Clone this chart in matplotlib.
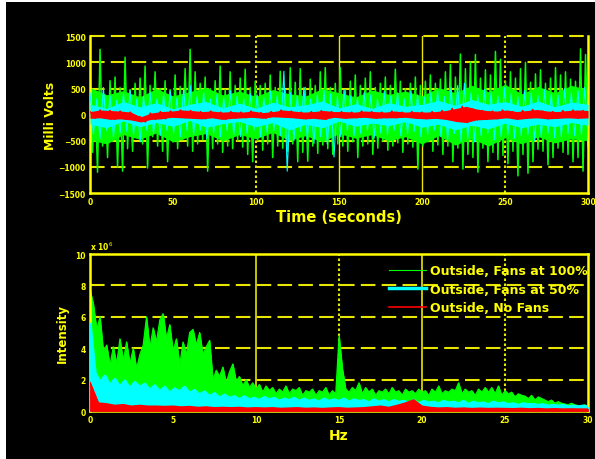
import numpy as np
import matplotlib
matplotlib.use("Agg")
import matplotlib.pyplot as plt
from matplotlib.patches import Rectangle

# --------------------------
# Data
# --------------------------
# time traces (milli volts): alternating high / low excursions, 1.5 s / 2 s / 3 s apart
green_mv = [900, -720, 450, -1100, 1250, -600, 380, -820, 650, -500,
            720, -1000, 520, -1080, 1100, -650, 480, -700, 600, -450,
            700, -560, 930, -1020, 560, -420, 820, -600, 500, -700,
            650, -900, 480, -520, 760, -650, 540, -480, 880, -600,
            1250, -700, 820, -560, 600, -480, 720, -1080, 500, -650,
            650, -560, 930, -720, 480, -600, 820, -650, 560, -500,
            700, -620, 870, -760, 520, -900, 640, -500, 560, -680,
            600, -560, 760, -820, 520, -600, 830, -640, 480, -700,
            900, -560, 620, -900, 880, -720, 520, -890, 680, -600,
            560, -740, 820, -580, 900, -650, 520, -760, 600, -560,
            900, -600, 480, -700, 640, -520, 760, -820, 560, -600,
            700, -560, 820, -760, 520, -640, 600, -500, 720, -680,
            560, -600, 870, -540, 640, -720, 500, -560, 600, -620,
            720, -1040, 560, -600, 640, -520, 760, -700, 600, -580,
            680, -760, 820, -600, 960, -900, 720, -640, 1160, -1040,
            880, -760, 1000, -820, 1150, -1100, 700, -640, 860, -900,
            760, -720, 1210, -860, 1060, -780, 640, -940, 820, -700,
            700, -1170, 880, -760, 1000, -1120, 620, -900, 780, -660,
            860, -700, 600, -960, 700, -820, 900, -640, 760, -720,
            820, -760, 680, -900, 640, -820, 1260, -1080, 1150, -600]
cyan_mv = [420, -380, 300, -450, 520, -300, 360, -420, 280, -350,
           400, -320, 460, -380, 300, -520, 350, -300, 420, -360,
           300, -400, 380, -300, 450, -350, 320, -420, 500, -300,
           560, -380, 340, -300, 420, -460, 300, -350, 380, -420,
           320, -300, 460, -380, 350, -420, 300, -360, 400, -300,
           380, -420, 320, -350, 450, -300, 360, -400, 830, -1080,
           420, -500, 360, -320, 520, -460, 300, -550, 380, -420,
           460, -560, 400, -810, 350, -420, 480, -300, 360, -400,
           320, -360, 420, -300, 380, -450, 300, -350, 440, -380,
           360, -300, 420, -400, 300, -360, 450, -320, 380, -420,
           340, -380, 420, -300, 460, -420, 350, -480, 520, -360,
           560, -500, 600, -460, 420, -520, 380, -400, 480, -360,
           420, -480, 360, -420, 520, -380, 400, -450, 340, -400,
           460, -380, 420, -500, 360, -420, 480, -360, 400, -440,
           380, -420, 500, -360, 420, -400, 460, -380, 520, -420]
red_mv = [60, -70, 90, -60, 80, -90, 70, -80, 50, -100,
          -40, -140, 30, -90, 60, -80, 70, -50, 90, -60,
          80, -70, 60, -80, 70, -60, 50, -90, 60, -70,
          50, -60, 70, -50, 40, -70, 60, -40, 90, -50,
          70, -60, 50, -80, 60, -70, 80, -90, 60, -50,
          60, -70, 50, -60, 70, -50, 60, -70, 50, -60,
          70, -60, 50, -50, 60, -70, 50, -80, 60, -70,
          80, -90, 120, -130, 160, -150, 110, -100, 80, -90,
          70, -80, 90, -60, 60, -90, 80, -70, 100, -60,
          70, -80, 60, -70, 80, -60, 90, -70, 80, -60]

# edges of the solid (dense) part of each trace, every 10 s
green_core_hi = [520, 380, 460, 340, 500, 360, 440, 520, 380, 450, 350, 480,
                 400, 360, 500, 420, 340, 470, 390, 450, 360, 520, 420, 560,
                 440, 580, 400, 540, 420, 560, 480]
green_core_lo = [-480, -560, -380, -470, -350, -520, -420, -360, -500, -380,
                 -460, -340, -490, -400, -520, -360, -450, -380, -500, -420,
                 -560, -400, -580, -460, -600, -440, -560, -420, -540, -460, -500]
cyan_core_hi = [200, 120, 250, 150, 230, 110, 200, 250, 130, 220, 120, 240,
                150, 190, 260, 130, 210, 120, 230, 160, 200, 270, 180, 290,
                200, 250, 160, 260, 150, 240, 200]
cyan_core_lo = [-180, -250, -120, -230, -150, -220, -110, -240, -170, -130,
                -230, -150, -290, -180, -250, -120, -220, -160, -210, -130,
                -240, -180, -290, -200, -270, -160, -250, -180, -230, -150, -200]

# spectra (x 10^6), sampled every 0.2 / 0.3 / 0.5 Hz
green_spec = [7.7, 6.8, 5.2, 6.0, 3.8, 4.2, 2.9, 4.1, 3.0, 4.6,
              3.2, 4.4, 3.0, 4.0, 2.7, 3.6, 4.2, 6.0, 4.0, 5.3,
              4.4, 5.8, 6.2, 4.6, 5.5, 3.8, 4.6, 2.9, 4.4, 3.6,
              5.0, 5.2, 4.2, 5.0, 3.6, 4.1, 4.5, 2.0, 2.6, 2.2,
              2.8, 1.8, 2.5, 3.0, 1.9, 2.2, 1.6, 2.0, 1.5, 1.8,
              1.4, 1.7, 1.2, 1.6, 1.3, 1.5, 1.1, 1.4, 1.2, 1.6,
              1.1, 1.4, 1.3, 1.5, 1.0, 1.3, 1.2, 1.4, 1.0, 1.3,
              1.2, 1.5, 1.0, 1.3, 1.1, 4.8, 2.7, 1.4, 1.2, 1.5,
              1.3, 1.8, 1.1, 1.5, 1.2, 1.4, 1.0, 1.3, 1.2, 1.4,
              1.1, 1.5, 1.2, 1.3, 1.0, 1.4, 1.2, 1.3, 1.1, 1.4,
              1.2, 1.3, 1.0, 1.4, 1.2, 1.6, 1.1, 1.3, 1.2, 1.4,
              1.3, 1.8, 1.1, 1.4, 1.2, 1.3, 1.0, 1.4, 1.2, 1.5,
              1.2, 1.5, 1.1, 1.6, 1.0, 1.3, 1.1, 1.2, 0.9, 1.1,
              1.0, 0.95, 0.8, 1.0, 0.7, 0.9, 0.8, 0.7, 0.6, 0.7,
              0.5, 0.6, 0.5, 0.45, 0.4, 0.5, 0.4, 0.35, 0.3, 0.4,
              0.3]
cyan_spec = [5.5, 2.4, 1.8, 2.2, 1.6, 2.0, 1.5, 1.9, 1.4, 1.8,
             1.5, 1.7, 1.3, 1.6, 1.2, 1.5, 1.1, 1.4, 1.2, 1.5,
             1.1, 1.3, 1.0, 1.2, 0.9, 1.1, 0.8, 1.0, 0.8, 0.9,
             0.7, 0.9, 0.7, 0.8, 0.65, 0.85, 0.7, 0.8, 0.6, 0.75,
             0.65, 0.8, 0.6, 0.75, 0.6, 0.7, 0.55, 0.75, 0.6, 0.7,
             0.6, 0.75, 0.55, 0.7, 0.6, 0.65, 0.5, 0.7, 0.55, 0.65,
             0.5, 0.65, 0.55, 0.6, 0.5, 0.65, 0.45, 0.6, 0.5, 0.55,
             0.45, 0.6, 0.5, 0.55, 0.45, 0.6, 0.4, 0.55, 0.45, 0.5,
             0.4, 0.55, 0.45, 0.5, 0.4, 0.45, 0.35, 0.45, 0.4, 0.4,
             0.35, 0.4, 0.3, 0.35, 0.3, 0.35, 0.25, 0.3, 0.25, 0.3,
             0.25]
red_spec = [1.8, 0.5, 0.45, 0.35, 0.4, 0.3, 0.35, 0.3, 0.3, 0.28,
            0.3, 0.25, 0.28, 0.22, 0.25, 0.2, 0.22, 0.2, 0.22, 0.18,
            0.2, 0.18, 0.2, 0.16, 0.18, 0.2, 0.16, 0.18, 0.15, 0.18,
            0.2, 0.16, 0.18, 0.2, 0.25, 0.3, 0.22, 0.35, 0.5, 0.7,
            0.3, 0.22, 0.18, 0.2, 0.16, 0.18, 0.15, 0.17, 0.15, 0.16,
            0.15, 0.14, 0.16, 0.13, 0.15, 0.12, 0.14, 0.12, 0.13, 0.12,
            0.12]

labels = ["Outside, Fans at 100%", "Outside, Fans at 50%", "Outside, No Fans"]

YEL = "#ffff00"
GRID = "#e6e600"
GREEN, CYAN, RED = "#00ff00", "#00ffff", "#ff0000"

fig = plt.figure(figsize=(5.95, 4.6), dpi=100)
fig.patch.set_facecolor("white")
fig.patches.append(Rectangle((6 / 595, 0), 1, 1 - 3 / 460, transform=fig.transFigure,
                             facecolor="black", edgecolor="none", zorder=-10))

ax1 = fig.add_axes([0.1513, 0.578, 0.837, 0.341])
ax2 = fig.add_axes([0.1513, 0.1043, 0.837, 0.3413])

dash = (0, (7, 3))
for ax in (ax1, ax2):
    ax.set_facecolor("black")
    for s in ("left", "bottom", "right"):
        ax.spines[s].set_color(YEL)
        ax.spines[s].set_linewidth(1.8)
    ax.tick_params(colors=YEL, length=0, labelsize=5.5, pad=3)

# --- top: time series
t_core = np.linspace(0, 300, len(green_core_hi))
t_g = np.linspace(0, 300, len(green_mv))
t_c = np.linspace(0, 300, len(cyan_mv))
t_rz = np.linspace(0, 300, len(red_mv))
red_hi = red_mv[0::2]
red_lo = red_mv[1::2]
t_r = np.linspace(0, 300, len(red_hi))

ax1.fill_between(t_core, green_core_lo, green_core_hi, color=GREEN, lw=0, zorder=2)
ax1.plot(t_g, green_mv, color=GREEN, lw=1.1, zorder=2)
ax1.fill_between(t_core, cyan_core_lo, cyan_core_hi, color=CYAN, lw=0, zorder=3)
ax1.plot(t_c, cyan_mv, color=CYAN, lw=0.8, zorder=3)
ax1.fill_between(t_r, red_lo, red_hi, color=RED, lw=0, zorder=4)
ax1.plot(t_rz, red_mv, color=RED, lw=1.0, zorder=4)

ax1.set_xlim(0, 300)
ax1.set_ylim(-1500, 1500)
ax1.set_xticks(range(0, 301, 50))
ax1.set_yticks(range(-1500, 1501, 500))
ax1.spines["top"].set_visible(False)
for y in (1500, 1000, 500, -500, -1000):
    ax1.axhline(y, color=GRID, lw=1.5, ls=dash, zorder=1, clip_on=False)
for x in (100, 250):
    ax1.axvline(x, color=GRID, lw=1.5, ls=(0, (1.2, 1.2)), zorder=1)
for x in (150, 200):
    ax1.axvline(x, color=GRID, lw=1.0, zorder=1)
ax1.set_xlabel("Time (seconds)", color=YEL, fontsize=10.5, fontweight="bold", labelpad=2)
ax1.set_ylabel("Milli Volts", color=YEL, fontsize=9, fontweight="bold", labelpad=1)

# --- bottom: spectra
f_g = np.linspace(0, 30, len(green_spec))
f_c = np.linspace(0, 30, len(cyan_spec))
f_r = np.linspace(0, 30, len(red_spec))
ax2.fill_between(f_g, 0, green_spec, color=GREEN, lw=0.6, zorder=2)
ax2.plot(f_g, green_spec, color=GREEN, lw=0.8, zorder=2, label=labels[0])
ax2.fill_between(f_c, 0, cyan_spec, color=CYAN, lw=0.6, zorder=3)
ax2.plot(f_c, cyan_spec, color=CYAN, lw=2.5, zorder=3, label=labels[1])
ax2.fill_between(f_r, 0, red_spec, color=RED, lw=0.6, zorder=4)
ax2.plot(f_r, red_spec, color=RED, lw=1.2, zorder=4, label=labels[2])
ax2.set_xlim(0, 30)
ax2.set_ylim(0, 10)
ax2.set_xticks(range(0, 31, 5))
ax2.set_yticks(range(0, 11, 2))
ax2.spines["top"].set_color(YEL)
ax2.spines["top"].set_linewidth(1.8)
for y in (2, 4, 6, 8):
    ax2.axhline(y, color=GRID, lw=1.5, ls=dash, zorder=1)
for x in (10, 20):
    ax2.axvline(x, color=GRID, lw=1.2, zorder=1)
for x in (15, 25):
    ax2.axvline(x, color=GRID, lw=1.5, ls=(0, (1.2, 1.2)), zorder=1)
ax2.set_xlabel("Hz", color=YEL, fontsize=10, fontweight="bold", labelpad=3)
ax2.set_ylabel("Intensity", color=YEL, fontsize=8.5, fontweight="bold", labelpad=5)
ax2.text(0.0, 1.01, r"x 10$^6$", transform=ax2.transAxes, color=YEL,
         fontsize=5.5, fontweight="bold", ha="left", va="bottom")

leg = ax2.legend(loc="upper right", bbox_to_anchor=(1.02, 1.0), frameon=False,
                 fontsize=9, handlelength=3.0, borderaxespad=0.6, labelspacing=0.45,
                 handletextpad=0.3, borderpad=0.2)
for txt in leg.get_texts():
    txt.set_color(YEL)
    txt.set_fontweight("bold")

for ax in (ax1, ax2):
    for lab in ax.get_xticklabels() + ax.get_yticklabels():
        lab.set_fontweight("bold")

fig.savefig("out.png", dpi=100, facecolor=fig.get_facecolor())
